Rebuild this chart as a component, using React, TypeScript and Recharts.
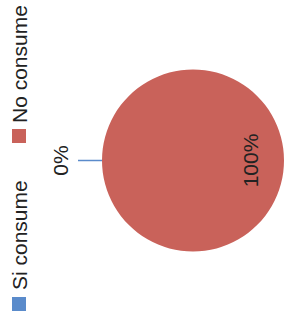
import React from 'react';
import { PieChart, Pie, Cell, Legend } from 'recharts';

const categories = ['Si consume', 'No consume'];
const values = [0, 100];
const labels = ['0%', '100%'];
const colors = ['#5A8BCB', '#C9625A'];

const data = categories.map((name, i) => ({ name, value: values[i] }));

const FONT = '"Liberation Sans", Arial, sans-serif';
const RAD = Math.PI / 180;

const renderLabel = (props: any) => {
  const { cx, cy, midAngle, outerRadius, index } = props;
  const cos = Math.cos(-midAngle * RAD);
  const sin = Math.sin(-midAngle * RAD);
  if (index === 0) {
    const x1 = cx + outerRadius * cos;
    const y1 = cy + outerRadius * sin;
    const x2 = cx + (outerRadius + 24) * cos;
    const y2 = cy + (outerRadius + 24) * sin;
    const tx = cx + (outerRadius + 42) * cos;
    const ty = cy + (outerRadius + 42) * sin;
    return (
      <g key="l0">
        <line x1={x1} y1={y1} x2={x2} y2={y2} stroke={colors[0]} strokeWidth={1.5} />
        <text x={tx} y={ty} textAnchor="middle" dominantBaseline="central" fontSize={21} fontFamily={FONT} fill="#222">
          {labels[0]}
        </text>
      </g>
    );
  }
  const r = outerRadius * 0.632;
  return (
    <text key={'l' + index} x={cx + r * cos} y={cy + r * sin} textAnchor="middle" dominantBaseline="central" fontSize={21} fontFamily={FONT} fill="#222">
      {labels[index]}
    </text>
  );
};

const iconLeft = [7, 175];
const textLeft = [28, 195];

const renderLegend = () => (
  <div style={{ position: 'relative', width: 318, height: 30 }}>
    {categories.map((c, i) => (
      <React.Fragment key={c}>
        <div style={{ position: 'absolute', left: iconLeft[i], top: 12, width: 14, height: 14, background: colors[i] }} />
        <div style={{ position: 'absolute', left: textLeft[i], top: 9, fontSize: 21, lineHeight: '21px', fontFamily: FONT, color: '#222', whiteSpace: 'nowrap' }}>
          {c}
        </div>
      </React.Fragment>
    ))}
  </div>
);

export default function App() {
  return (
    <div style={{ position: 'absolute', top: 0, left: 0, width: 286, height: 318, overflow: 'hidden', background: '#fff' }}>
      <div style={{ position: 'absolute', top: 0, left: 0, width: 318, height: 286, transformOrigin: '0 0', transform: 'translateY(318px) rotate(-90deg)' }}>
        <PieChart width={318} height={286} margin={{ top: 0, right: 0, bottom: 0, left: 0 }}>
          <Legend content={renderLegend} wrapperStyle={{ position: 'absolute', top: 0, left: 0, width: 318, height: 30 }} />
          <Pie
            data={data}
            dataKey="value"
            nameKey="name"
            cx={157.5}
            cy={193}
            outerRadius={91}
            startAngle={90}
            endAngle={-270}
            stroke="none"
            label={renderLabel}
            labelLine={false}
            isAnimationActive={false}
          >
            {data.map((d, i) => (
              <Cell key={d.name} fill={colors[i]} />
            ))}
          </Pie>
        </PieChart>
      </div>
    </div>
  );
}
